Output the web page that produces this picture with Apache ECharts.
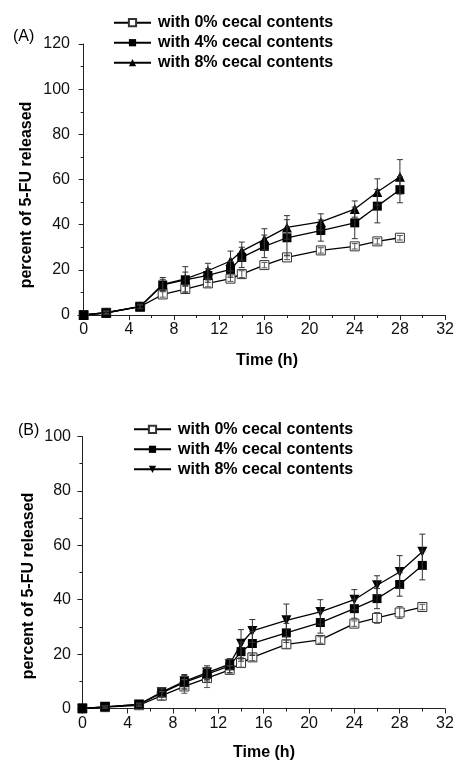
<!DOCTYPE html>
<html>
<head>
<meta charset="utf-8">
<script src="https://cdn.jsdelivr.net/npm/echarts@6/dist/echarts.min.js"></script>
<style>
html,body{margin:0;padding:0;background:#fff;}
#chart{width:457px;height:761px;}
</style>
</head>
<body>
<div id="chart"></div>
<script>
// ---- data ----
const xTicks = [0, 4, 8, 12, 16, 20, 24, 28, 32];
const xMinorTicks = [2, 6, 10, 14, 18, 22, 26, 30];
const seriesNames = ['with 0% cecal contents', 'with 4% cecal contents', 'with 8% cecal contents'];

const timeA = [0, 2, 5, 7, 9, 11, 13, 14, 16, 18, 21, 24, 26, 28];
const a0 = [0, 1.0, 3.7, 9.1, 11.5, 14.0, 16.1, 18.1, 22.1, 25.5, 28.6, 30.4, 32.6, 34.2];
const a0err = [0, 0.5, 0.8, 1.2, 1.2, 1.5, 1.2, 1.5, 1.2, 1.0, 1.2, 1.2, 1.2, 1.0];
const a4 = [0, 1.0, 3.7, 13.3, 15.6, 17.5, 20.2, 25.5, 30.4, 34.2, 37.4, 40.8, 48.2, 55.5];
const a4err = [0, 0.8, 0.8, 2.5, 5.8, 3.0, 3.5, 4.5, 5.0, 8.0, 4.7, 7.0, 7.4, 5.8];
const a8 = [0, 1.0, 3.8, 13.6, 16.0, 19.6, 23.9, 28.3, 33.5, 38.8, 41.2, 46.9, 54.5, 61.2];
const a8err = [0, 0.8, 1.0, 3.0, 3.0, 3.3, 4.4, 4.0, 4.7, 5.2, 3.6, 3.6, 5.8, 7.6];

const timeB = [0, 2, 5, 7, 9, 11, 13, 14, 15, 18, 21, 24, 26, 28, 30];
const b0 = [0, 0.5, 1.2, 4.7, 8.1, 11.2, 14.2, 16.7, 18.8, 23.6, 25.2, 31.2, 33.3, 35.3, 37.3];
const b0err = [0, 0.4, 0.5, 1.5, 2.5, 3.5, 1.5, 1.5, 1.2, 1.5, 1.2, 1.0, 2.0, 2.2, 1.0];
const b4 = [0, 0.6, 1.5, 5.7, 9.6, 12.6, 15.7, 20.9, 23.9, 27.8, 31.6, 36.7, 40.4, 45.6, 52.6];
const b4err = [0, 0.4, 0.5, 1.5, 2.5, 2.5, 2.5, 3.5, 4.4, 3.5, 3.9, 3.5, 3.7, 4.3, 5.3];
const b8 = [0, 0.6, 1.5, 6.0, 10.0, 13.2, 16.3, 23.8, 28.5, 32.4, 35.5, 40.0, 45.3, 50.2, 57.6];
const b8err = [0, 0.4, 0.5, 1.5, 2.5, 2.5, 2.0, 5.2, 4.2, 6.0, 4.5, 3.7, 3.5, 6.0, 6.5];

// ---- helpers ----
const FONT = '"Liberation Sans", Arial, Helvetica, sans-serif';
const AX = '#222';

function pairs(t, v) { return t.map((x, i) => [x, v[i]]); }
function errPairs(t, v, e) { return t.map((x, i) => [x, v[i], e[i]]); }

function errSeries(t, v, e, gi, color) {
  return {
    type: 'custom', xAxisIndex: gi * 2, yAxisIndex: gi, z: 5, silent: true,
    data: errPairs(t, v, e),
    renderItem: function (params, api) {
      const x = api.value(0), y = api.value(1), er = api.value(2);
      if (!er) return null;
      const top = api.coord([x, y + er]);
      const bot = api.coord([x, y - er]);
      const hw = 3;
      const st = { stroke: color, lineWidth: 1 };
      return {
        type: 'group', children: [
          { type: 'line', shape: { x1: top[0], y1: top[1], x2: bot[0], y2: bot[1] }, style: st },
          { type: 'line', shape: { x1: top[0] - hw, y1: top[1], x2: top[0] + hw, y2: top[1] }, style: st },
          { type: 'line', shape: { x1: bot[0] - hw, y1: bot[1], x2: bot[0] + hw, y2: bot[1] }, style: st }
        ]
      };
    }
  };
}

function lineSeries(name, t, v, gi, kind) {
  const s = {
    name: name, type: 'line', xAxisIndex: gi * 2, yAxisIndex: gi,
    data: pairs(t, v), z: 3,
    lineStyle: { color: '#000', width: 1.3 },
    emphasis: { disabled: true },
    animation: false
  };
  if (kind === 'open') {
    s.symbol = 'rect'; s.symbolSize = 9;
    s.itemStyle = { color: '#fff', borderColor: '#333', borderWidth: 1 };
  } else if (kind === 'square') {
    s.symbol = 'rect'; s.symbolSize = 9;
    s.itemStyle = { color: '#000', borderColor: '#000', borderWidth: 0 };
  } else if (kind === 'up') {
    s.symbol = 'triangle'; s.symbolSize = 10;
    s.itemStyle = { color: '#000', borderColor: '#000', borderWidth: 0 };
  } else {
    s.symbol = 'triangle'; s.symbolSize = 10; s.symbolRotate = 180;
    s.itemStyle = { color: '#000', borderColor: '#000', borderWidth: 0 };
  }
  return s;
}

function xAxes(gi, min) {
  return [
    {
      type: 'value', gridIndex: gi, min: min, max: 32, position: 'bottom',
      axisLine: { show: true, onZero: false, lineStyle: { color: AX, width: 1 } },
      axisTick: { show: true, customValues: xTicks, length: 5, lineStyle: { color: AX } },
      axisLabel: { show: true, customValues: xTicks, fontSize: 16, color: '#111', fontFamily: FONT, margin: 7 },
      splitLine: { show: false }
    },
    {
      type: 'value', gridIndex: gi, min: min, max: 32, position: 'bottom', offset: 0,
      axisLine: { show: false },
      axisTick: { show: true, customValues: xMinorTicks, length: 3, lineStyle: { color: AX } },
      axisLabel: { show: false, customValues: xMinorTicks },
      splitLine: { show: false }
    }
  ];
}

function yAxis(gi, max) {
  return {
    type: 'value', gridIndex: gi, min: 0, max: max, interval: 20,
    axisLine: { show: true, lineStyle: { color: AX, width: 1 } },
    axisTick: { show: true, length: 5, lineStyle: { color: AX } },
    minorTick: { show: true, splitNumber: 2, length: 3, lineStyle: { color: AX } },
    axisLabel: { fontSize: 16, color: '#111', fontFamily: FONT, margin: 8 },
    splitLine: { show: false }, minorSplitLine: { show: false }
  };
}

const namesB = seriesNames.map(n => 'B: ' + n);

function legend(names, left, top) {
  return {
    data: names, left: left, top: top, orient: 'vertical', padding: 0,
    itemWidth: 37, itemHeight: 9, itemGap: 4, selectedMode: false,
    formatter: n => n.replace(/^B: /, ''),
    textStyle: { fontSize: 16, fontWeight: 'bold', color: '#000', fontFamily: FONT, lineHeight: 16, padding: [0, 0, 0, 2] }
  };
}

const chart = echarts.init(document.getElementById('chart'), null, { renderer: 'canvas' });
chart.setOption({
  animation: false,
  backgroundColor: '#fff',
  grid: [
    { left: 78, right: 9, top: 44, height: 271 },
    { left: 79, right: 12, top: 436.5, height: 272 }
  ],
  xAxis: xAxes(0, -0.5).concat(xAxes(1, -0.3)),
  yAxis: [yAxis(0, 120), yAxis(1, 100)],
  legend: [legend(seriesNames, 113, 14.7), legend(namesB, 133, 421.3)],
  graphic: [
    { type: 'text', left: 13, top: 29, style: { text: '(A)', fontSize: 16, fontFamily: FONT, fill: '#000' } },
    { type: 'text', left: 18, top: 423, style: { text: '(B)', fontSize: 16, fontFamily: FONT, fill: '#000' } },
    { type: 'text', x: 27, y: 195, rotation: Math.PI / 2, style: { text: 'percent of 5-FU released', fontSize: 16, fontWeight: 'bold', fontFamily: FONT, fill: '#000', align: 'center', verticalAlign: 'middle' } },
    { type: 'text', x: 29, y: 586, rotation: Math.PI / 2, style: { text: 'percent of 5-FU released', fontSize: 16, fontWeight: 'bold', fontFamily: FONT, fill: '#000', align: 'center', verticalAlign: 'middle' } },
    { type: 'text', x: 267, y: 361, style: { text: 'Time (h)', fontSize: 16, fontWeight: 'bold', fontFamily: FONT, fill: '#000', align: 'center', verticalAlign: 'middle' } },
    { type: 'text', x: 264, y: 753, style: { text: 'Time (h)', fontSize: 16, fontWeight: 'bold', fontFamily: FONT, fill: '#000', align: 'center', verticalAlign: 'middle' } }
  ],
  series: [
    lineSeries(seriesNames[0], timeA, a0, 0, 'open'),
    lineSeries(seriesNames[1], timeA, a4, 0, 'square'),
    lineSeries(seriesNames[2], timeA, a8, 0, 'up'),
    errSeries(timeA, a0, a0err, 0, '#555'),
    errSeries(timeA, a4, a4err, 0, '#333'),
    errSeries(timeA, a8, a8err, 0, '#333'),
    lineSeries(namesB[0], timeB, b0, 1, 'open'),
    lineSeries(namesB[1], timeB, b4, 1, 'square'),
    lineSeries(namesB[2], timeB, b8, 1, 'down'),
    errSeries(timeB, b0, b0err, 1, '#555'),
    errSeries(timeB, b4, b4err, 1, '#333'),
    errSeries(timeB, b8, b8err, 1, '#333')
  ]
});
</script>
</body>
</html>
